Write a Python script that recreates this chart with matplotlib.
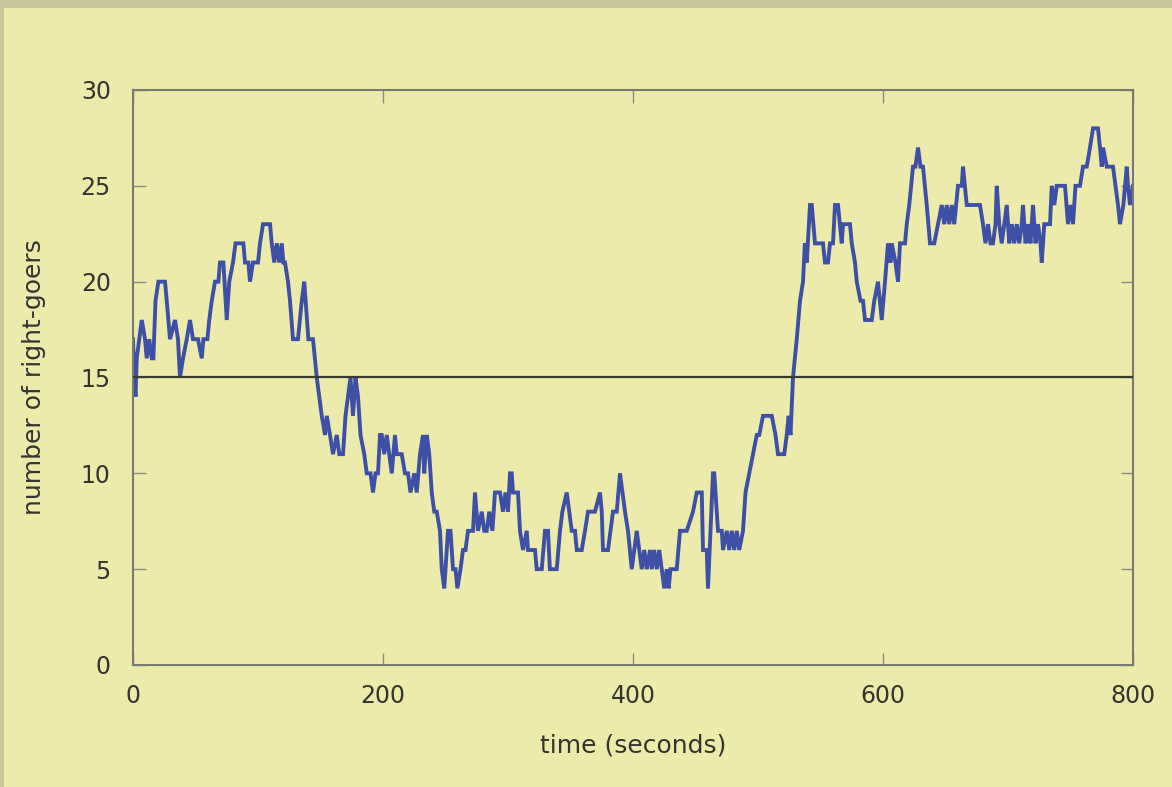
import matplotlib
matplotlib.use("Agg")
import matplotlib.pyplot as plt
from matplotlib.patches import Rectangle

# ---- data ----
times = [0, 1, 2, 3, 5, 7, 9.6, 11, 13, 15, 16.3, 18, 20.3, 25.6, 27, 29.6, 33.6, 36, 37.6, 40, 43,
         45.6, 48, 52, 55, 56.3, 59.5, 61, 63, 65.6, 68.3, 69.6, 72.3, 75, 77, 80, 82, 88.3, 89.6,
         92.3, 93.6, 96, 100, 101.6, 104, 109.6, 111, 113, 115, 117, 119, 120.3, 121.6, 124, 125.6,
         128, 132, 135, 137, 140.3, 144, 147, 151, 153.6, 155, 157.6, 160, 163, 165, 168, 170, 172,
         174, 176, 178, 180, 182, 185, 187, 190, 192, 194, 196, 197.6, 199, 201, 203, 205, 207,
         209.6, 211, 215, 217.6, 220, 222, 225, 227, 229.6, 232, 233, 235, 237, 239, 241, 243,
         245.6, 247, 249, 251, 252, 254, 256, 258, 259.5, 262, 264, 266, 268, 272, 273.6, 276,
         279, 281, 283, 285, 287.5, 289.6, 293.6, 296, 298, 300, 301.6, 303, 304, 308, 309.6, 312,
         315, 316, 321.6, 323, 327, 329.6, 332, 333.5, 335, 339, 341.6, 343.5, 347, 349, 351,
         353.6, 355, 359, 361.6, 364, 369.6, 373.6, 375, 376, 380, 384, 387, 389.6, 393.6, 396,
         399, 401, 403, 405, 407, 409, 411, 413.6, 415, 417, 419, 421, 423, 425, 427, 428.5, 430,
         432, 435, 437.6, 443, 448, 451, 455, 456, 459, 460, 462, 464, 465, 468, 471, 472, 475,
         477, 479, 481, 483, 485, 488, 490, 493, 496, 499, 501, 504, 511, 514, 516, 521, 523,
         524.5, 526, 528, 531, 533.6, 536, 537.5, 539, 541.6, 543, 545.6, 552, 553.6, 556, 557.6,
         560, 561.6, 564, 567, 568, 573.6, 575, 577.6, 579, 582, 584, 585.6, 591, 593, 596, 597.5,
         599, 601.6, 604, 606, 607, 610, 612, 613.6, 617.6, 619, 621, 624, 626, 628, 630, 632,
         635, 637.6, 641, 644, 647, 649, 651, 653, 655, 657, 660, 663, 664, 667, 677.6, 680, 682,
         684, 686, 688, 690, 691, 693, 695, 697, 699, 701, 703, 705, 707, 709, 711, 712, 714, 716, 718,
         720, 722, 724, 726, 727, 729, 733.6, 735, 737, 739, 741.6, 745.6, 748, 750, 752, 754,
         757.6, 760, 763, 765.6, 768, 772, 773.6, 775, 776, 779, 784, 786, 788, 789.6, 792.3, 795,
         796, 797.6, 800]
right_goers = [17, 15, 14, 16, 17, 18, 17, 16, 17, 16, 16, 19, 20, 20, 19, 17, 18, 17, 15, 16, 17,
               18, 17, 17, 16, 17, 17, 18, 19, 20, 20, 21, 21, 18, 20, 21, 22, 22, 21,
               21, 20, 21, 21, 22, 23, 23, 22, 21, 22, 21, 22, 21, 21, 20, 19,
               17, 17, 19, 20, 17, 17, 15, 13, 12, 13, 12, 11, 12, 11, 11, 13, 14,
               15, 13, 15, 14, 12, 11, 10, 10, 9, 10, 10, 12, 12, 11, 12, 11, 10,
               12, 11, 11, 10, 10, 9, 10, 9, 11, 12, 10, 12, 11, 9, 8, 8,
               7, 5, 4, 6, 7, 7, 5, 5, 4, 5, 6, 6, 7, 7, 9, 7,
               8, 7, 7, 8, 7, 9, 9, 8, 9, 8, 10, 10, 9, 9, 7, 6,
               7, 6, 6, 5, 5, 7, 7, 5, 5, 5, 7, 8, 9, 8, 7,
               7, 6, 6, 7, 8, 8, 9, 8, 6, 6, 8, 8, 10, 8, 7,
               5, 6, 7, 6, 5, 6, 5, 6, 5, 6, 5, 6, 5, 4, 5, 4, 5,
               5, 5, 7, 7, 8, 9, 9, 6, 6, 4, 7, 10, 10, 7, 7, 6, 7,
               6, 7, 6, 7, 6, 7, 9, 10, 11, 12, 12, 13, 13, 12, 11, 11, 12,
               13, 12, 15, 17, 19, 20, 22, 21, 24, 24, 22, 22, 21, 21, 22,
               22, 24, 24, 22, 23, 23, 22, 21, 20, 19, 19, 18, 18, 19, 20, 19,
               18, 20, 22, 21, 22, 21, 20, 22, 22, 23, 24, 26, 26, 27, 26, 26,
               24, 22, 22, 23, 24, 23, 24, 23, 24, 23, 25, 25, 26, 24, 24, 23, 22,
               23, 22, 22, 23, 25, 23, 22, 23, 24, 22, 23, 22, 23, 22, 23, 24, 22, 23, 22,
               24, 22, 23, 22, 21, 23, 23, 25, 24, 25, 25, 25, 23, 24, 23, 25,
               25, 26, 26, 27, 28, 28, 27, 26, 27, 26, 26, 25, 24, 23, 24, 26,
               25, 24, 25]
reference_level = 15
x_ticks = [0, 200, 400, 600, 800]
y_ticks = [0, 5, 10, 15, 20, 25, 30]
x_label = "time (seconds)"
y_label = "number of right-goers"

BG = "#EDEBAC"
BORDER = "#C9C69C"
LINE = "#3E50A6"
TXT = "#333330"

plt.rcParams['font.family'] = ['DejaVu Sans']

fig = plt.figure(figsize=(11.72, 7.87), dpi=100, facecolor=BG)
W, H = 1172, 787
ax = fig.add_axes([133 / W, 1 - 665 / H, 1000 / W, 575 / H])
ax.set_facecolor(BG)

# border bands (top and left)
fig.patches.append(Rectangle((0, 1 - 8 / H), 1, 8 / H, transform=fig.transFigure,
                             facecolor=BORDER, edgecolor='none', zorder=-1))
fig.patches.append(Rectangle((0, 0), 4 / W, 1, transform=fig.transFigure,
                             facecolor=BORDER, edgecolor='none', zorder=-1))

ax.plot(times, right_goers, color=LINE, lw=2.8, solid_joinstyle='miter', zorder=2)
ax.axhline(reference_level, color="#3A3A2E", lw=1.6, zorder=3)

ax.set_xlim(0, 800)
ax.set_ylim(0, 30)
ax.set_xticks(x_ticks)
ax.set_yticks(y_ticks)
ax.tick_params(direction='in', top=True, right=True, length=9, width=1,
               color="#8A8A80", labelcolor=TXT, labelsize=17)
ax.tick_params(axis='x', pad=14)
ax.tick_params(axis='y', pad=16)
for s in ax.spines.values():
    s.set_color("#7A7A72")
    s.set_linewidth(1.5)

ax.set_xlabel(x_label, fontsize=18, color=TXT, labelpad=18)
ax.set_ylabel(y_label, fontsize=18, color=TXT, labelpad=25)

fig.savefig("out.png", dpi=100, facecolor=BG)
